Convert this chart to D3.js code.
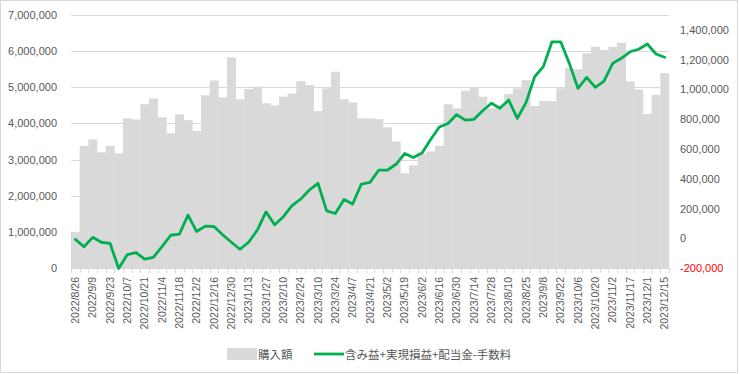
<!DOCTYPE html>
<html>
<head>
<meta charset="utf-8">
<script src="https://cdn.jsdelivr.net/npm/d3@7"></script>
<style>
body { margin: 0; background: #fff; }
</style>
</head>
<body>
<div id="wrapper"></div>
<script>
const dates = [
    "2022/8/26", "2022/9/2", "2022/9/9", "2022/9/16", "2022/9/23", "2022/9/30",
    "2022/10/7", "2022/10/14", "2022/10/21", "2022/10/28", "2022/11/4", "2022/11/11",
    "2022/11/18", "2022/11/25", "2022/12/2", "2022/12/9", "2022/12/16", "2022/12/23",
    "2022/12/30", "2023/1/6", "2023/1/13", "2023/1/20", "2023/1/27", "2023/2/3",
    "2023/2/10", "2023/2/17", "2023/2/24", "2023/3/3", "2023/3/10", "2023/3/17",
    "2023/3/24", "2023/3/31", "2023/4/7", "2023/4/14", "2023/4/21", "2023/4/28",
    "2023/5/2", "2023/5/12", "2023/5/19", "2023/5/26", "2023/6/2", "2023/6/9",
    "2023/6/16", "2023/6/23", "2023/6/30", "2023/7/7", "2023/7/14", "2023/7/21",
    "2023/7/28", "2023/8/4", "2023/8/10", "2023/8/18", "2023/8/25", "2023/9/1",
    "2023/9/8", "2023/9/15", "2023/9/22", "2023/9/29", "2023/10/6", "2023/10/13",
    "2023/10/20", "2023/10/27", "2023/11/2", "2023/11/10", "2023/11/17", "2023/11/24",
    "2023/12/1", "2023/12/8", "2023/12/15"
];

// 購入額
const purchase = [
    980000, 3380000, 3560000, 3200000, 3380000, 3170000,
    4140000, 4110000, 4530000, 4690000, 4170000, 3730000,
    4250000, 4090000, 3790000, 4780000, 5190000, 4720000,
    5830000, 4670000, 4950000, 5020000, 4560000, 4500000,
    4740000, 4830000, 5170000, 5060000, 4340000, 4970000,
    5430000, 4670000, 4580000, 4140000, 4140000, 4120000,
    3890000, 3500000, 2620000, 2840000, 3170000, 3220000,
    3380000, 4530000, 4420000, 4900000, 5000000, 4740000,
    4420000, 4440000, 4810000, 4970000, 5200000, 4480000,
    4620000, 4620000, 4970000, 5530000, 5500000, 5940000,
    6120000, 6030000, 6120000, 6230000, 5160000, 4940000,
    4260000, 4790000, 5390000
];

// 含み益+実現損益+配当金-手数料
const profit = [
    -8000, -57000, 6000, -27000, -34000, -203000,
    -110000, -96000, -141000, -128000, -57000, 20000,
    27000, 155000, 45000, 81000, 79000, 23000,
    -27000, -74000, -27000, 55000, 177000, 91000,
    145000, 219000, 263000, 324000, 369000, 184000,
    166000, 260000, 230000, 364000, 375000, 457000,
    457000, 497000, 569000, 542000, 573000, 663000,
    747000, 771000, 831000, 794000, 799000, 857000,
    907000, 873000, 929000, 806000, 911000, 1085000,
    1153000, 1320000, 1320000, 1175000, 1007000, 1081000,
    1014000, 1056000, 1175000, 1209000, 1253000, 1270000,
    1305000, 1238000, 1216000
];

const leftTicks = [0, 1000000, 2000000, 3000000, 4000000, 5000000, 6000000, 7000000];
const rightTicks = [-200000, 0, 200000, 400000, 600000, 800000, 1000000, 1200000, 1400000];

const seriesNames = ["購入額", "含み益+実現損益+配当金-手数料"];

const BAR_COLOR = "#d9d9d9";
const LINE_COLOR = "#00b050";
const GRID_COLOR = "#d9d9d9";
const TEXT_COLOR = "#595959";
const NUM_FONT = "'Liberation Sans', Arial, sans-serif";
const CJK_FONT = "'Noto Sans CJK JP', sans-serif";

const dimensions = {
    width: 740,
    height: 374,
    margin: { top: 15, right: 71, bottom: 106, left: 71 },
};
dimensions.boundedWidth = dimensions.width - dimensions.margin.left - dimensions.margin.right;
dimensions.boundedHeight = dimensions.height - dimensions.margin.top - dimensions.margin.bottom;

const fmt = d3.formatLocale({
    decimal: ".", thousands: ",", grouping: [3], currency: ["", ""], minus: "-"
}).format(",");

const svg = d3.select("#wrapper")
    .append("svg")
    .attr("width", dimensions.width)
    .attr("height", dimensions.height);

svg.append("rect")
    .attr("x", 0.5).attr("y", 0.5)
    .attr("width", dimensions.width - 3)
    .attr("height", dimensions.height - 2)
    .attr("fill", "#fff")
    .attr("stroke", "#d9d9d9");

const bounds = svg.append("g")
    .attr("transform", `translate(${dimensions.margin.left},${dimensions.margin.top})`);

const xScale = d3.scaleBand()
    .domain(dates)
    .range([0, dimensions.boundedWidth])
    .padding(0);

const yLeft = d3.scaleLinear()
    .domain([0, 7000000])
    .range([dimensions.boundedHeight, 0]);

const yRight = d3.scaleLinear()
    .domain([-200000, 1500000])
    .range([dimensions.boundedHeight, 0]);

// gridlines
bounds.append("g")
    .selectAll("line")
    .data(leftTicks.slice(1))
    .enter().append("line")
    .attr("x1", 0)
    .attr("x2", dimensions.boundedWidth)
    .attr("y1", d => Math.round(yLeft(d)) + 0.5)
    .attr("y2", d => Math.round(yLeft(d)) + 0.5)
    .attr("stroke", GRID_COLOR);

// bars
bounds.append("g")
    .selectAll("rect")
    .data(purchase)
    .enter().append("rect")
    .attr("x", (d, i) => xScale(dates[i]))
    .attr("y", d => yLeft(d))
    .attr("width", xScale.bandwidth() + 0.3)
    .attr("height", d => dimensions.boundedHeight - yLeft(d))
    .attr("fill", BAR_COLOR);

// x axis
const xAxis = d3.axisBottom(xScale)
    .tickValues(dates.filter((d, i) => i % 2 === 0))
    .tickSize(0)
    .tickPadding(0);

const xAxisGroup = bounds.append("g")
    .attr("transform", `translate(0,${dimensions.boundedHeight})`)
    .call(xAxis);

xAxisGroup.select(".domain")
    .attr("stroke", GRID_COLOR);

xAxisGroup.selectAll("text")
    .attr("transform", "rotate(-90)")
    .attr("x", -9)
    .attr("y", 0)
    .attr("dy", "0.35em")
    .style("text-anchor", "end")
    .style("font-family", NUM_FONT)
    .style("font-size", "10.5px")
    .attr("fill", TEXT_COLOR);

// category boundary ticks
xAxisGroup.append("g")
    .selectAll("line")
    .data(dates.concat([null]))
    .enter().append("line")
    .attr("x1", (d, i) => Math.round(i < dates.length ? xScale(d) : dimensions.boundedWidth) + 0.5)
    .attr("x2", (d, i) => Math.round(i < dates.length ? xScale(d) : dimensions.boundedWidth) + 0.5)
    .attr("y1", 0)
    .attr("y2", 5)
    .attr("stroke", GRID_COLOR);

// left axis
const leftAxis = d3.axisLeft(yLeft)
    .tickValues(leftTicks)
    .tickFormat(fmt)
    .tickSize(0)
    .tickPadding(14);

const leftGroup = bounds.append("g").call(leftAxis);
leftGroup.select(".domain").remove();
leftGroup.selectAll("text")
    .style("font-family", NUM_FONT)
    .style("font-size", "11px")
    .attr("fill", TEXT_COLOR);

// right axis
const rightAxis = d3.axisRight(yRight)
    .tickValues(rightTicks)
    .tickFormat(fmt)
    .tickSize(0)
    .tickPadding(11);

const rightGroup = bounds.append("g")
    .attr("transform", `translate(${dimensions.boundedWidth},0)`)
    .call(rightAxis);
rightGroup.select(".domain").remove();
rightGroup.selectAll("text")
    .style("font-family", NUM_FONT)
    .style("font-size", "11px")
    .attr("fill", d => d < 0 ? "#ff0000" : TEXT_COLOR);

// line
const lineGenerator = d3.line()
    .x((d, i) => xScale(dates[i]) + xScale.bandwidth() / 2)
    .y(d => yRight(d));

bounds.append("path")
    .datum(profit)
    .attr("d", lineGenerator)
    .attr("fill", "none")
    .attr("stroke", LINE_COLOR)
    .attr("stroke-width", 2.8)
    .attr("stroke-linejoin", "round")
    .attr("stroke-linecap", "round");

// legend
const legend = svg.append("g");
legend.append("rect")
    .attr("x", 227).attr("y", 348)
    .attr("width", 30).attr("height", 12)
    .attr("fill", BAR_COLOR);
legend.append("text")
    .attr("x", 258).attr("y", 358.5)
    .text(seriesNames[0])
    .style("font-family", CJK_FONT)
    .style("font-size", "11.5px")
    .attr("fill", TEXT_COLOR);
legend.append("line")
    .attr("x1", 314).attr("x2", 344)
    .attr("y1", 354).attr("y2", 354)
    .attr("stroke", LINE_COLOR)
    .attr("stroke-width", 2.8);
legend.append("text")
    .attr("x", 345).attr("y", 358.5)
    .text(seriesNames[1])
    .style("font-family", CJK_FONT)
    .style("font-size", "11.5px")
    .attr("fill", TEXT_COLOR);
</script>
</body>
</html>
